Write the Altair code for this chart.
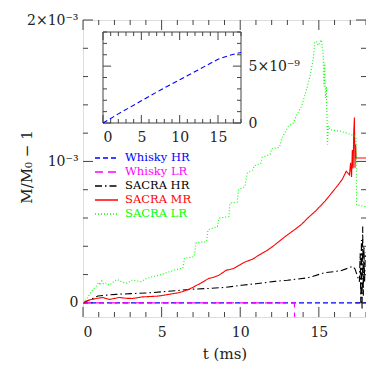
import altair as alt
import pandas as pd

# ---------------- data ----------------
series_names = ["Whisky HR", "Whisky LR", "SACRA HR", "SACRA MR", "SACRA LR"]
series_colors = ["#0000ff", "#ff00ff", "#000000", "#ff0000", "#00ff00"]
series_dashes = [[5, 3], [8, 5], [7, 3, 1.5, 3], [1, 0], [1, 2]]

# Whisky HR (units of 1e-9, shown in the inset; ~0 in the main panel)
whisky_hr_t = [0, 2, 5, 7.5, 10, 12.5, 15, 16.5, 18]
whisky_hr_v9 = [0, 0.8, 1.95, 2.9, 3.8, 4.7, 5.6, 5.95, 6.2]

# main-panel series, values in units of 1e-3
whisky_lr_t = [0, 13.45, 13.5]
whisky_lr_v = [0, 0, -1.0]

sacra_hr_t = [0, 0.5, 0.95, 1.5, 2.1, 3.0, 4.2, 5.0, 6.3, 7.0, 8.0, 9.1, 10.1, 11.0, 12.2,
              13.0, 14.3, 15.37, 16.4, 17.16, 17.3, 17.47, 17.58, 17.63, 17.67, 17.71,
              17.75, 17.79, 17.83, 17.87, 17.91, 17.95, 18.0]
sacra_hr_v = [0, 0.025, 0.048, 0.055, 0.06, 0.065, 0.071, 0.078, 0.09, 0.097, 0.102, 0.11,
              0.125, 0.135, 0.152, 0.16, 0.177, 0.213, 0.227, 0.258, 0.24, 0.184, 0.149,
              0.35, 0.0, 0.445, -0.05, 0.54, 0.05, 0.40, 0.15, 0.32, 0.36]

sacra_mr_t = [0, 0.4, 0.84, 1.26, 1.68, 2.3, 2.8, 3.15, 3.78, 4.3, 4.8, 5.46, 6.0, 6.3, 6.7,
              7.0, 7.5, 8.0, 8.3, 8.65, 9.1, 9.6, 10.0, 10.33, 10.8, 11.2, 11.7, 12.2, 12.85,
              13.44, 13.9, 14.3, 14.8, 15.4, 15.8, 16.2, 16.5, 16.74, 16.95, 17.02, 17.08,
              17.13, 17.18, 17.22, 17.26, 17.3, 17.34, 17.37, 17.45, 18.0]
sacra_mr_v = [0, 0.02, 0.031, 0.038, 0.024, 0.038, 0.032, 0.031, 0.042, 0.045, 0.048, 0.06,
              0.07, 0.078, 0.095, 0.11, 0.14, 0.173, 0.18, 0.196, 0.23, 0.244, 0.27, 0.29,
              0.31, 0.338, 0.37, 0.41, 0.468, 0.516, 0.555, 0.60, 0.65, 0.72, 0.775, 0.83,
              0.875, 0.93, 0.905, 0.99, 0.89, 1.08, 0.95, 1.2, 1.31, 0.955, 1.12, 1.024,
              1.024, 1.024]

sacra_lr_t = [0, 0.3, 0.6, 0.85, 1.0, 1.1, 1.2, 1.3, 1.45, 1.7, 2.0, 2.2, 2.5, 2.8, 3.1, 3.4,
              3.7, 4.0, 4.4, 4.8, 5.1, 5.5, 5.9, 6.35, 6.45, 7.06, 7.2, 7.86, 7.95, 8.55, 8.65,
              9.28, 9.35, 9.8, 9.9, 10.3, 10.45, 10.8, 10.9, 11.3, 11.4, 11.9, 12.0, 12.5,
              12.65, 13.06, 13.38, 13.6, 13.9, 14.2, 14.43, 14.64, 14.74, 14.85, 14.95, 15.06,
              15.16, 15.27, 15.33, 15.38, 15.42, 15.48, 15.55, 15.6, 15.7, 16.4, 17.05, 17.3,
              17.37, 17.4, 18.0]
sacra_lr_v = [0, 0.04, 0.09, 0.12, 0.145, 0.125, 0.155, 0.135, 0.14, 0.125, 0.155, 0.165,
              0.145, 0.14, 0.16, 0.155, 0.15, 0.17, 0.185, 0.195, 0.205, 0.22, 0.235, 0.245,
              0.315, 0.326, 0.425, 0.433, 0.516, 0.539, 0.599, 0.61, 0.705, 0.712, 0.80,
              0.823, 0.918, 0.94, 0.97, 0.985, 1.03, 1.05, 1.09, 1.10, 1.166, 1.248, 1.272,
              1.33, 1.39, 1.50, 1.60, 1.72, 1.84, 1.85, 1.82, 1.84, 1.86, 1.77, 1.53, 1.70,
              1.45, 1.53, 1.12, 1.25, 1.225, 1.213, 1.19, 1.18, 1.17, 0.693, 0.68]

# axes
x_domain = [0, 18]
y_domain = [-0.1, 2.0]            # units of 1e-3
x_major = [0, 5, 10, 15]
x_minor = [v for v in range(0, 19) if v % 5 != 0]
y_major = [0, 1, 2]
y_major_labels = ["0", "10⁻³", "2×10⁻³"]
y_minor = [round(0.2 * i, 1) for i in range(0, 11) if i % 5 != 0]

inset_y_domain = [0, 8]           # units of 1e-9
inset_y_major = [0, 5]
inset_y_major_labels = ["0", "5×10⁻⁹"]
inset_y_minor = [v for v in range(0, 9) if v % 5 != 0]

x_title = "t (ms)"
y_title = "M/M₀ − 1"

# ---------------- layout ----------------
PAD_L, PAD_T = 75, 12
W, H = 283, 297
IN_L, IN_R, IN_T, IN_B = 20, 158, 12, 103
LEG_X0, LEG_X1, LEG_TX = 12, 35, 42
LEG_Y0, LEG_Y1 = 138, 194
FONT = "DejaVu Serif"
GRAY = "#444444"
TXT = "#222222"
MAJ, MIN = 10, 5
IMAJ, IMIN = 8, 4

# ---------------- tables ----------------
rows = []
main_series = [
    (whisky_hr_t, [v * 1e-6 for v in whisky_hr_v9]),
    (whisky_lr_t, whisky_lr_v),
    (sacra_hr_t, sacra_hr_v),
    (sacra_mr_t, sacra_mr_v),
    (sacra_lr_t, sacra_lr_v),
]
for name, (ts, vs) in zip(series_names, main_series):
    for i, (t, v) in enumerate(zip(ts, vs)):
        rows.append({"series": name, "t": t, "v": v, "i": i})
main_df = pd.DataFrame(rows)
inset_df = pd.DataFrame({"t": whisky_hr_t, "v": whisky_hr_v9})
legend_df = pd.DataFrame({"series": series_names})
inset_box_df = pd.DataFrame({"x0": [x_domain[0]], "x1": [x_domain[1]],
                             "y0": [inset_y_domain[0]], "y1": [inset_y_domain[1]]})


def label_expr(vals, labels):
    parts = []
    for v, l in zip(vals[:-1], labels[:-1]):
        parts.append(f"abs(datum.value - {v}) < 1e-6 ? '{l}' : ")
    return "".join(parts) + f"'{labels[-1]}'"


mx = alt.Scale(domain=x_domain, nice=False, zero=False)
my = alt.Scale(domain=y_domain, nice=False, zero=False)
ix = alt.Scale(domain=x_domain, range=[IN_L, IN_R], nice=False, zero=False)
iy = alt.Scale(domain=inset_y_domain, range=[IN_B, IN_T], nice=False, zero=False)
cscale = alt.Scale(domain=series_names, range=series_colors)
dscale = alt.Scale(domain=series_names, range=series_dashes)
lscale = alt.Scale(type="point", domain=series_names, range=[LEG_Y0, LEG_Y1], padding=0)

common_lab = dict(labelFont=FONT, labelColor=TXT, grid=False, domain=False, ticks=False)


def xticks(values, scale, y0, y1):
    return alt.Chart(pd.DataFrame({"tv": values})).mark_rule(
        color=GRAY, strokeWidth=1).encode(
        x=alt.X("tv:Q", scale=scale, axis=None), y=alt.value(y0), y2=alt.value(y1))


def yticks(values, scale, x0, x1):
    return alt.Chart(pd.DataFrame({"tv": values})).mark_rule(
        color=GRAY, strokeWidth=1).encode(
        y=alt.Y("tv:Q", scale=scale, axis=None), x=alt.value(x0), x2=alt.value(x1))


curves = alt.Chart(main_df).mark_line(clip=True, strokeWidth=1.1).encode(
    x=alt.X("t:Q", scale=mx, axis=alt.Axis(
        orient="bottom", values=x_major, labelPadding=8, labelFontSize=14,
        title=x_title, titleFont=FONT, titleFontSize=15, titleFontWeight="normal",
        titleColor=TXT, titlePadding=7, **common_lab)),
    y=alt.Y("v:Q", scale=my, axis=alt.Axis(
        orient="left", values=y_major, labelPadding=5, labelFontSize=14,
        labelExpr=label_expr(y_major, y_major_labels), labelBaseline="middle",
        title=y_title, titleFont=FONT, titleFontSize=15, titleFontWeight="normal",
        titleColor=TXT, titleX=34 - 8 - PAD_L, titleY=H / 2 - 2, **common_lab)),
    color=alt.Color("series:N", scale=cscale, legend=None),
    strokeDash=alt.StrokeDash("series:N", scale=dscale, legend=None),
    order="i:Q",
)

inset_line = alt.Chart(inset_df).mark_line(strokeDash=series_dashes[0],
                                           color=series_colors[0],
                                           strokeWidth=1.1).encode(
    x=alt.X("t:Q", scale=ix, axis=alt.Axis(
        orient="bottom", offset=IN_B - H, values=x_major, labelPadding=7,
        labelFontSize=14, title=None, **common_lab)),
    y=alt.Y("v:Q", scale=iy, axis=alt.Axis(
        orient="right", offset=IN_R - W, values=inset_y_major, labelPadding=7,
        labelFontSize=14, labelExpr=label_expr(inset_y_major, inset_y_major_labels),
        labelBaseline="middle", title=None, **common_lab)),
)

inset_box = alt.Chart(inset_box_df).mark_rect(
    fillOpacity=0, stroke=GRAY, strokeWidth=1).encode(
    x=alt.X("x0:Q", scale=ix, axis=None), x2="x1:Q",
    y=alt.Y("y0:Q", scale=iy, axis=None), y2="y1:Q",
)

legend_lines = alt.Chart(legend_df).mark_rule(strokeWidth=1.3).encode(
    y=alt.Y("series:N", scale=lscale, axis=None),
    x=alt.value(LEG_X0), x2=alt.value(LEG_X1),
    color=alt.Color("series:N", scale=cscale, legend=None),
    strokeDash=alt.StrokeDash("series:N", scale=dscale, legend=None),
)
legend_text = alt.Chart(legend_df).mark_text(
    align="left", baseline="middle", font=FONT, fontSize=11.5).encode(
    y=alt.Y("series:N", scale=lscale, axis=None),
    x=alt.value(LEG_TX),
    text="series:N",
    color=alt.Color("series:N", scale=cscale, legend=None),
)

layers = [
    # main frame ticks, pointing inward
    xticks(x_major, mx, H, H - MAJ), xticks(x_minor, mx, H, H - MIN),
    xticks(x_major, mx, 0, MAJ), xticks(x_minor, mx, 0, MIN),
    yticks(y_major, my, 0, MAJ), yticks(y_minor, my, 0, MIN),
    yticks(y_major, my, W, W - MAJ), yticks(y_minor, my, W, W - MIN),
    # inset frame ticks
    xticks(x_major, ix, IN_B, IN_B - IMAJ), xticks(x_minor, ix, IN_B, IN_B - IMIN),
    xticks(x_major, ix, IN_T, IN_T + IMAJ), xticks(x_minor, ix, IN_T, IN_T + IMIN),
    yticks(inset_y_major, iy, IN_L, IN_L + IMAJ), yticks(inset_y_minor, iy, IN_L, IN_L + IMIN),
    yticks(inset_y_major, iy, IN_R, IN_R - IMAJ), yticks(inset_y_minor, iy, IN_R, IN_R - IMIN),
    inset_box,
    curves, inset_line, legend_lines, legend_text,
]

chart = alt.layer(*layers).resolve_scale(
    x="independent", y="independent"
).resolve_axis(
    x="independent", y="independent"
).properties(
    width=W, height=H,
    autosize=alt.AutoSizeParams(type="none"),
    padding={"left": PAD_L, "top": PAD_T, "right": 0, "bottom": 46},
).configure_view(stroke=GRAY, strokeWidth=1).configure(background="white")

chart.save("out.html", embed_options={"renderer": "svg", "actions": False})
